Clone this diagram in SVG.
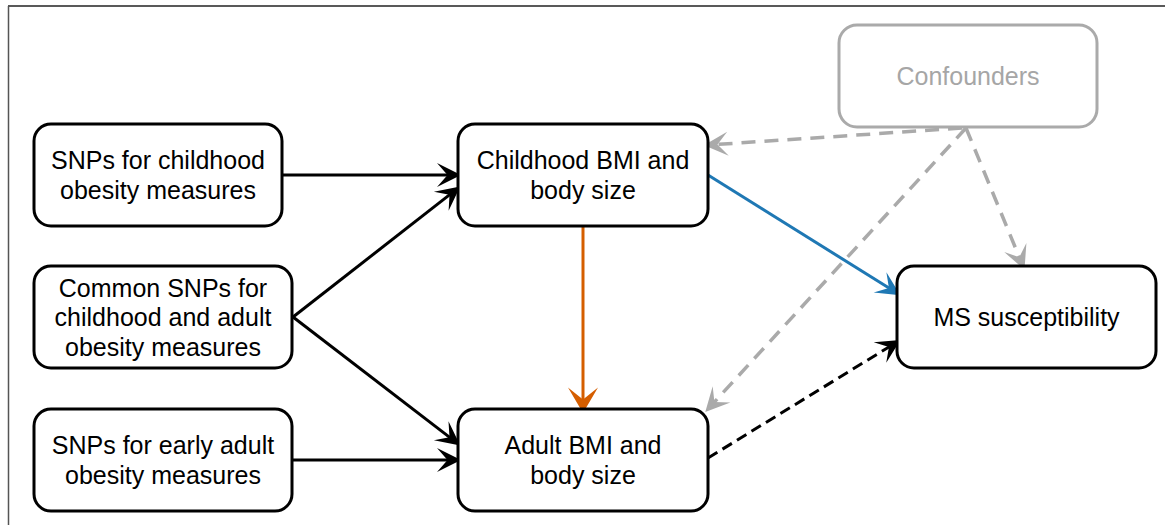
<svg xmlns="http://www.w3.org/2000/svg" width="1165" height="525" viewBox="0 0 1165 525">
<style>
.node rect{fill:#fff;stroke:#000;stroke-width:3}
.node text{font-family:"Liberation Sans",Arial,sans-serif;font-size:25px;fill:#000;text-anchor:middle}
#confounders rect{stroke:#aaaaaa}
#confounders text{fill:#a6a6a6}
.edge{fill:none;stroke-width:3}
.k{stroke:#000}
.b{stroke:#1f78b4}
.o{stroke:#d55e00}
.g{stroke:#aaaaaa;stroke-width:3.5;stroke-dasharray:14 9}
.kd{stroke:#000;stroke-dasharray:11 6}
</style>
<defs>
<marker id="ak" markerUnits="userSpaceOnUse" orient="auto" refX="0" refY="0" markerWidth="30" markerHeight="30" viewBox="-10 -10 20 20" overflow="visible"><path d="M8,0 L-8,-8 L-1,0 L-8,8 Z" fill="#000"/></marker>
<marker id="ab" markerUnits="userSpaceOnUse" orient="auto" refX="0" refY="0" markerWidth="30" markerHeight="30" viewBox="-10 -10 20 20" overflow="visible"><path d="M8,0 L-8,-8 L-1,0 L-8,8 Z" fill="#1f78b4"/></marker>
<marker id="ao" markerUnits="userSpaceOnUse" orient="auto" refX="0" refY="0" markerWidth="30" markerHeight="30" viewBox="-10 -10 20 20" overflow="visible"><path d="M8,0 L-9,-10 L-1,0 L-9,10 Z" fill="#d55e00"/></marker>
<marker id="ag" markerUnits="userSpaceOnUse" orient="auto" refX="0" refY="0" markerWidth="30" markerHeight="30" viewBox="-10 -10 20 20" overflow="visible"><path d="M8,0 L-8,-8 L-1,0 L-8,8 Z" fill="#aaaaaa"/></marker>
</defs>
<rect x="0" y="0" width="1165" height="525" fill="#fff"/>
<line x1="8" y1="6" x2="1165" y2="6" stroke="#222" stroke-width="1.5"/>
<line x1="8.5" y1="6" x2="8.5" y2="525" stroke="#555" stroke-width="1.5"/>

<g id="connectors">
<line class="edge k" x1="283" y1="175" x2="449" y2="175" marker-end="url(#ak)"/>
<line class="edge k" x1="293" y1="317" x2="450.7" y2="193.9" marker-end="url(#ak)"/>
<line class="edge k" x1="293" y1="317" x2="450.7" y2="438.1" marker-end="url(#ak)"/>
<line class="edge k" x1="292" y1="460" x2="449" y2="460" marker-end="url(#ak)"/>
<line class="edge o" x1="583" y1="226" x2="583" y2="401" marker-end="url(#ao)"/>
<line class="edge b" x1="708" y1="175" x2="890.2" y2="288.8" marker-end="url(#ab)"/>
<line class="edge kd" x1="708" y1="458" x2="890.2" y2="346.2" marker-end="url(#ak)"/>
<line class="edge g" x1="962" y1="128" x2="716" y2="144.5" marker-end="url(#ag)"/>
<line class="edge g" x1="966" y1="128" x2="1019.9" y2="258.6" marker-end="url(#ag)"/>
<line class="edge g" x1="966" y1="128" x2="713.4" y2="403.1" marker-end="url(#ag)"/>
</g>

<g id="snps-childhood" class="node">
<rect x="34" y="124" width="248" height="102" rx="17"/>
<text x="158" y="168.8">SNPs for childhood</text>
<text x="158" y="198.8">obesity measures</text>
</g>
<g id="common-snps" class="node">
<rect x="34" y="266" width="258" height="102" rx="17"/>
<text x="163" y="296.7">Common SNPs for</text>
<text x="163" y="326.2">childhood and adult</text>
<text x="163" y="355.7">obesity measures</text>
</g>
<g id="snps-early-adult" class="node">
<rect x="34" y="409" width="258" height="102" rx="17"/>
<text x="163" y="453.8">SNPs for early adult</text>
<text x="163" y="483.8">obesity measures</text>
</g>
<g id="childhood-bmi" class="node">
<rect x="458" y="124" width="250" height="102" rx="17"/>
<text x="583" y="168.8">Childhood BMI and</text>
<text x="583" y="198.8">body size</text>
</g>
<g id="adult-bmi" class="node">
<rect x="458" y="409" width="250" height="102" rx="17"/>
<text x="583" y="453.8">Adult BMI and</text>
<text x="583" y="483.8">body size</text>
</g>
<g id="ms-susceptibility" class="node">
<rect x="897" y="266" width="259" height="102" rx="17"/>
<text x="1026.5" y="325.8">MS susceptibility</text>
</g>
<g id="confounders" class="node">
<rect x="839" y="25" width="258" height="102" rx="18"/>
<text x="968" y="84.8">Confounders</text>
</g>
</svg>
